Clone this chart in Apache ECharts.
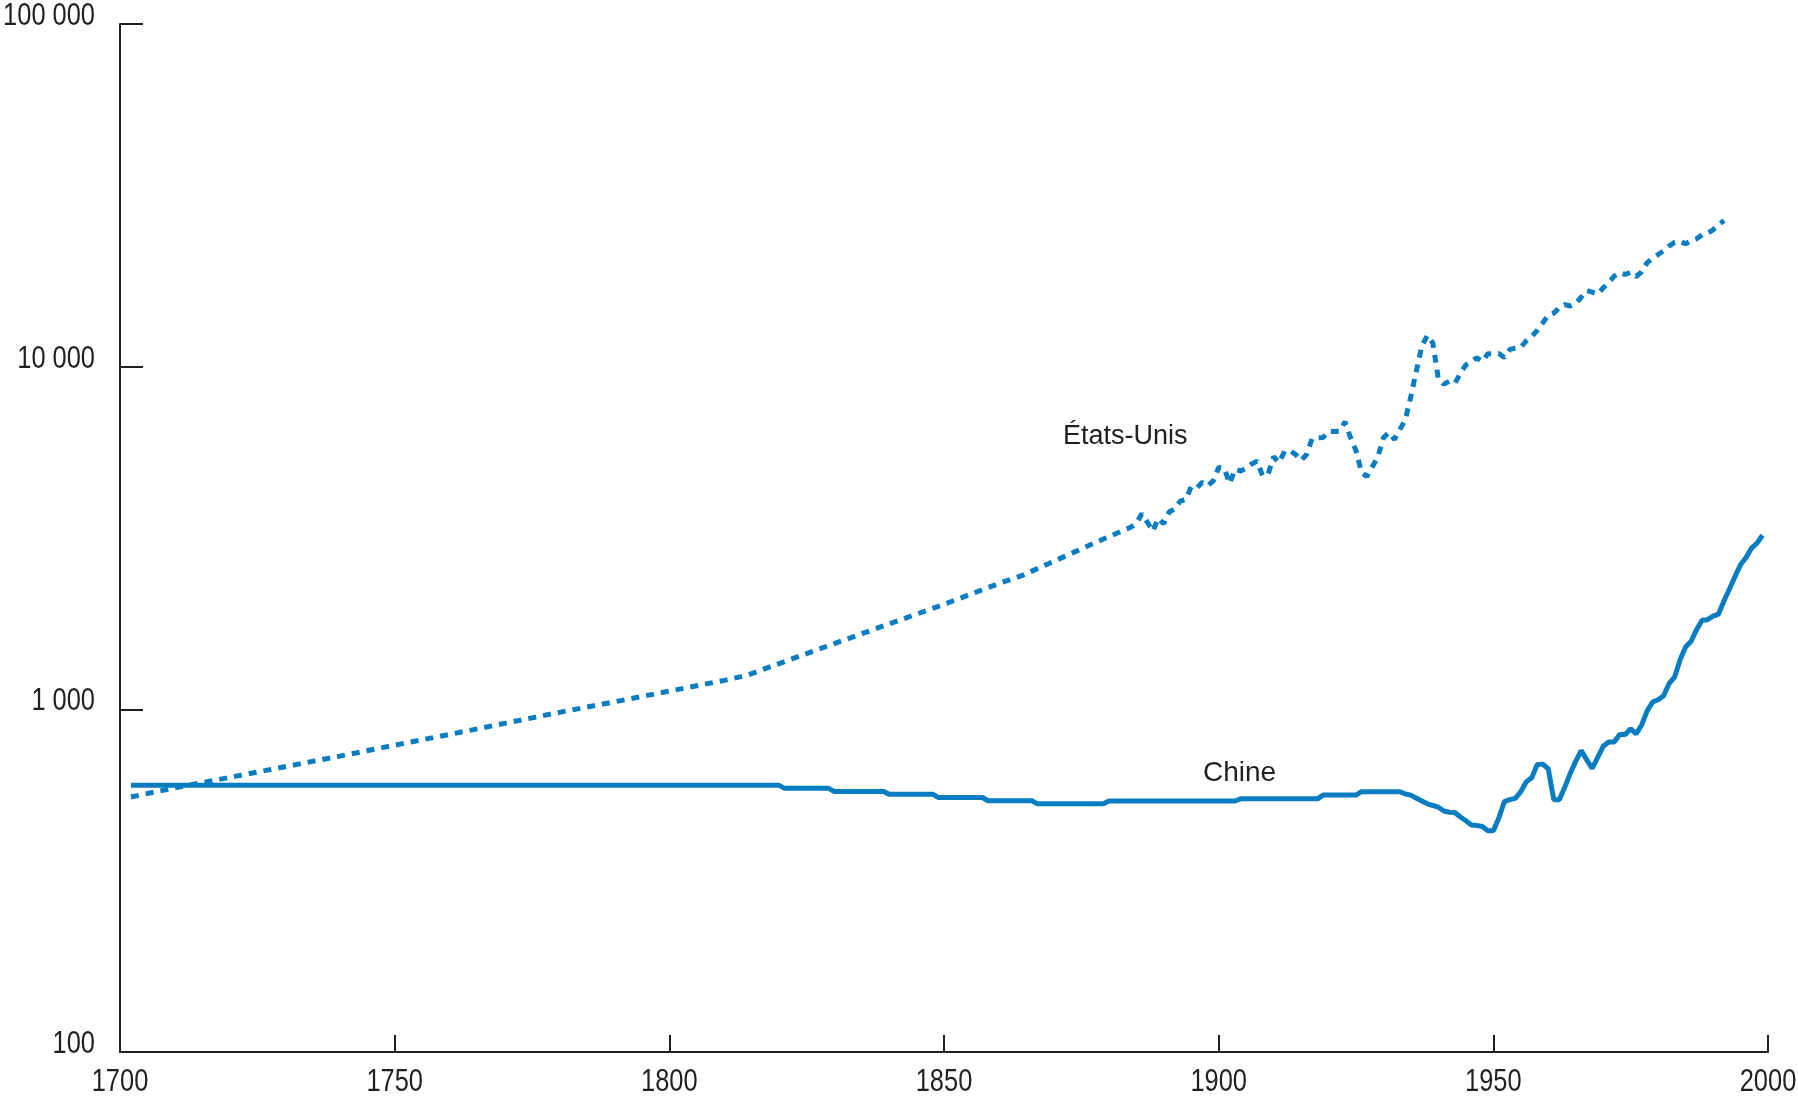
<!DOCTYPE html>
<html>
<head>
<meta charset="utf-8">
<script src="https://cdn.jsdelivr.net/npm/echarts/dist/echarts.min.js"></script>
<style>
  html, body { margin: 0; padding: 0; background: #ffffff; }
  #chart { width: 1798px; height: 1096px; }
</style>
</head>
<body>
<div id="chart"></div>
<script>
// PIB par habitant (échelle logarithmique)

// Chine : paliers jusqu'en 1933, puis valeurs annuelles
const chinaYears = [
  1702, 1820, 1821, 1829, 1830, 1839, 1840, 1848, 1849, 1857, 1858, 1866, 1867, 1879,
  1880, 1903, 1904, 1918, 1919, 1925, 1926, 1933,
  1934, 1935, 1936, 1937, 1938, 1939, 1940, 1941, 1942, 1943, 1944, 1945, 1946, 1947,
  1948, 1949, 1950, 1951, 1952, 1953, 1954, 1955, 1956, 1957, 1958, 1959, 1960, 1961,
  1962, 1963, 1964, 1965, 1966, 1967, 1968, 1969, 1970, 1971, 1972, 1973, 1974, 1975,
  1976, 1977, 1978, 1979, 1980, 1981, 1982, 1983, 1984, 1985, 1986, 1987, 1988, 1989,
  1990, 1991, 1992, 1993, 1994, 1995, 1996, 1997, 1998, 1999
];
const chinaValues = [
  600, 600, 588, 588, 576, 576, 565, 565, 553, 553, 541, 541, 530, 530,
  540, 540, 548, 548, 562, 562, 575, 575,
  566, 562, 550, 540, 530, 524, 518, 505, 501, 500, 485, 473, 460, 458,
  455, 442, 442, 482, 538, 545, 550, 575, 615, 632, 690, 692, 670, 545,
  545, 592, 650, 706, 758, 712, 672, 724, 780, 803, 803, 844, 844, 878,
  848, 900, 990, 1050, 1067, 1096, 1190, 1242, 1396, 1520, 1580, 1708, 1820, 1827,
  1870, 1897, 2075, 2249, 2443, 2642, 2775, 2954, 3055, 3220
];

// États-Unis : points de passage jusqu'en 1884, puis valeurs annuelles
const usYears = [
  1702, 1710, 1720, 1730, 1740, 1750, 1760, 1770, 1780, 1790, 1800, 1810, 1814,
  1820, 1830, 1840, 1850, 1860, 1864, 1869, 1874, 1879, 1884,
  1885, 1886, 1887, 1888, 1889, 1890, 1891, 1892, 1893, 1894, 1895, 1896, 1897, 1898,
  1899, 1900, 1901, 1902, 1903, 1904, 1905, 1906, 1907, 1908, 1909, 1910, 1911, 1912,
  1913, 1914, 1915, 1916, 1917, 1918, 1919, 1920, 1921, 1922, 1923, 1924, 1925, 1926,
  1927, 1928, 1929, 1930, 1931, 1932, 1933, 1934, 1935, 1936, 1937, 1938, 1939, 1940,
  1941, 1942, 1943, 1944, 1945, 1946, 1947, 1948, 1949, 1950, 1951, 1952, 1953, 1954,
  1955, 1956, 1957, 1958, 1959, 1960, 1961, 1962, 1963, 1964, 1965, 1966, 1967, 1968,
  1969, 1970, 1971, 1972, 1973, 1974, 1975, 1976, 1977, 1978, 1979, 1980, 1981, 1982,
  1983, 1984, 1985, 1986, 1987, 1988, 1989, 1990, 1991, 1992
];
const usValues = [
  555, 590, 633, 680, 730, 786, 845, 910, 980, 1052, 1130, 1215, 1255,
  1360, 1555, 1775, 2025, 2330, 2450, 2660, 2890, 3140, 3400,
  3480, 3720, 3520, 3310, 3610, 3480, 3770, 3840, 4050, 4090, 4460, 4420, 4600, 4490,
  4640, 5080, 5060, 4560, 5020, 4960, 5050, 5200, 5300, 4800, 4860, 5460, 5250, 5660,
  5680, 5550, 5320, 5540, 6160, 6200, 6210, 6480, 6470, 6480, 6900, 6210, 5690, 4910,
  4780, 5110, 5470, 6200, 6430, 6130, 6560, 7010, 8210, 9740, 11520, 12330, 11710, 9200,
  8890, 9070, 8940, 9560, 10120, 10320, 10610, 10360, 10900, 10910, 10920, 10630, 11230, 11330,
  11400, 11900, 12240, 12770, 13420, 14130, 14330, 14860, 15180, 15030, 15300, 15940, 16690, 16490,
  16280, 16980, 17570, 18370, 18790, 18580, 18860, 18330, 18920, 20120, 20720, 21240, 21790, 22500,
  23060, 23200, 22850, 23300, 23620, 24250, 24520, 25080, 25930, 26700
];

// Graduations et libellés des axes
const xTickValues = [1700, 1750, 1800, 1850, 1900, 1950, 2000];
const xTickLabels = ['1700', '1750', '1800', '1850', '1900', '1950', '2000'];
const yTickValues = [100, 1000, 10000, 100000];
const yTickLabels = ['100', '1 000', '10 000', '100 000'];

const seriesNames = ['États-Unis', 'Chine'];

const ink = '#231f20';
const blue = '#0a7dc2';
const font = '"Liberation Sans", Arial, Helvetica, sans-serif';
// les chiffres des axes sont en caractères étroits
const tickFontSize = 31;
const tickCondense = 0.82;

const chart = echarts.init(document.getElementById('chart'), null, { renderer: 'canvas' });

chart.setOption({
  animation: false,
  backgroundColor: '#ffffff',
  grid: { left: 120, right: 30, top: 24, bottom: 44, containLabel: false },
  xAxis: {
    type: 'value',
    min: xTickValues[0],
    max: xTickValues[xTickValues.length - 1],
    interval: 50,
    axisLine: { show: true, onZero: false, lineStyle: { color: ink, width: 2 } },
    axisTick: { show: true, inside: true, length: 17, lineStyle: { color: ink, width: 2 } },
    axisLabel: { show: false },
    splitLine: { show: false }
  },
  yAxis: {
    type: 'log',
    logBase: 10,
    min: yTickValues[0],
    max: yTickValues[yTickValues.length - 1],
    axisLine: { show: true, onZero: false, lineStyle: { color: ink, width: 2 } },
    axisTick: { show: true, inside: true, length: 23, lineStyle: { color: ink, width: 2 } },
    axisLabel: { show: false },
    splitLine: { show: false }
  },
  series: [
    {
      name: seriesNames[0],
      type: 'line',
      showSymbol: false,
      symbol: 'none',
      data: usYears.map((y, i) => [y, usValues[i]]),
      lineStyle: { color: blue, width: 5, type: [8, 7] },
      z: 3
    },
    {
      name: seriesNames[1],
      type: 'line',
      showSymbol: false,
      symbol: 'none',
      data: chinaYears.map((y, i) => [y, chinaValues[i]]),
      lineStyle: { color: blue, width: 5, type: 'solid' },
      z: 2
    }
  ]
});

// Libellés des graduations, placés à l'aide des échelles du graphique
const axisY = chart.convertToPixel({ yAxisIndex: 0 }, yTickValues[0]);
const axisX = chart.convertToPixel({ xAxisIndex: 0 }, xTickValues[0]);

const tickTexts = [];
xTickValues.forEach((v, i) => {
  tickTexts.push({
    type: 'text',
    x: chart.convertToPixel({ xAxisIndex: 0 }, v),
    y: axisY + 30,
    scaleX: tickCondense,
    style: {
      text: xTickLabels[i], fontSize: tickFontSize, fontFamily: font, fill: ink,
      align: 'center', verticalAlign: 'middle'
    }
  });
});
yTickValues.forEach((v, i) => {
  tickTexts.push({
    type: 'text',
    x: axisX - 25,
    y: chart.convertToPixel({ yAxisIndex: 0 }, v) - 7.5,
    scaleX: tickCondense,
    style: {
      text: yTickLabels[i], fontSize: tickFontSize, fontFamily: font, fill: ink,
      align: 'right', verticalAlign: 'middle'
    }
  });
});

// Noms des séries, inscrits près des courbes
const seriesTexts = [
  {
    type: 'text', x: 1063, y: 437,
    style: { text: seriesNames[0], fontSize: 27, fontFamily: font, fill: ink, align: 'left', verticalAlign: 'middle' }
  },
  {
    type: 'text', x: 1203, y: 773,
    style: { text: seriesNames[1], fontSize: 28, fontFamily: font, fill: ink, align: 'left', verticalAlign: 'middle' }
  }
];

chart.setOption({ graphic: tickTexts.concat(seriesTexts) });
</script>
</body>
</html>
